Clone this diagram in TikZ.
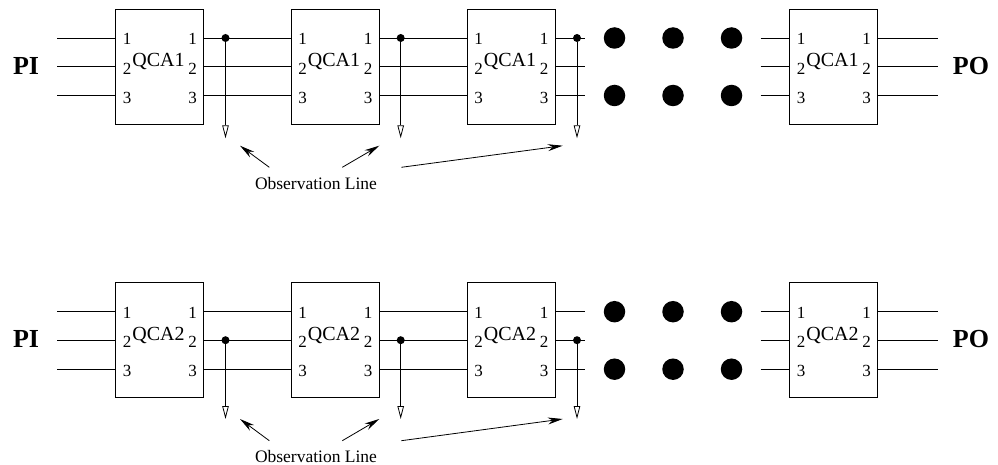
\documentclass[tikz,border=0pt]{standalone}
\usepackage{fontspec}
\setmainfont{Liberation Serif}
\usetikzlibrary{
    arrows.meta
}
\tikzset{
    every picture/.style = {
        > = Stealth,
        line width = 0.8pt
    },
    qcabox/.style = {
        draw,
        rectangle,
        anchor = north west,
        minimum width = 88pt,
        minimum height = 115pt,
        inner sep = 0pt,
        outer sep = 0pt
    },
    pinnum/.style = {inner sep = 0pt, font = \fontsize{17}{17}\selectfont},
    qcaname/.style = {inner sep = 0pt, font = \fontsize{20}{20}\selectfont},
    portname/.style = {inner sep = 0pt, font = \fontsize{26}{26}\selectfont\bfseries},
    obsname/.style = {inner sep = 0pt, font = \fontsize{17.5}{17.5}\selectfont},
    tapdot/.style = {circle, fill, inner sep = 0pt, outer sep = 0pt, minimum size = 8pt},
    bigdot/.style = {circle, fill, inner sep = 0pt, minimum size = 21.5pt},
    taparrow/.style = {-{Triangle[open, length = 13pt, width = 6.5pt, fill = white]}},
    obsarrow/.style = {-{Stealth[length = 15pt, width = 7pt, inset = 5pt]}}
}

\begin{document}
\begin{tikzpicture}[x = 1pt, y = -1pt]
    \useasboundingbox (0, 0) rectangle (998, 465);
    \foreach \r/\t/\n/\w/\e/\ah/\at/\ay in {1/9/1/29/138.3/145.7/167.3/183.3, 2/282.7/2/57.5/419/419/440.7/456.8} {
        % boxes with their pins
        \foreach \c/\x in {1/115.5, 2/291, 3/467, 4/789.5} {
            \node[qcabox] (box\r\c) at (\x, \t) {};
            \node[qcaname] (name\r\c) at (\x + 43, \t + 53) {QCA\n};
            \foreach \p/\d/\h in {1/29/1, 2/57.5/2, 3/86.5/2} {
                \coordinate (in\r\c\p) at (\x, \t + \d);
                \coordinate (out\r\c\p) at (\x + 88, \t + \d);
                \node[pinnum] (inum\r\c\p) at (\x + 11.5, \t + \d + \h) {\p};
                \node[pinnum] (onum\r\c\p) at (\x + 77, \t + \d + \h) {\p};
            }
        }
        \foreach \p/\d in {1/29, 2/57.5, 3/86.5} {
            \coordinate (pi\r\p) at (57, \t + \d);
            \coordinate (po\r\p) at (937.5, \t + \d);
            \coordinate (endl\r\p) at (585, \t + \d);
            \coordinate (endr\r\p) at (760.5, \t + \d);
            \draw (pi\r\p) -- (in\r1\p);
            \draw (out\r1\p) -- (in\r2\p);
            \draw (out\r2\p) -- (in\r3\p);
            \draw (out\r3\p) -- (endl\r\p);
            \draw (endr\r\p) -- (in\r4\p);
            \draw (out\r4\p) -- (po\r\p);
        }
        \foreach \i/\x in {1/614.5, 2/673, 3/731.5} {
            \node[bigdot] (dotu\r\i) at (\x, \t + 29) {};
            \node[bigdot] (dotl\r\i) at (\x, \t + 86.5) {};
        }
        \node[portname] (pi\r) at (26, \t + 56.7) {PI};
        \node[portname] (po\r) at (971, \t + 56.7) {PO};
        % observation lines
        \foreach \o/\x in {1/225.5, 2/400.7, 3/577} {
            \node[tapdot] (tap\r\o) at (\x, \t + \w) {};
            \coordinate (end\r\o) at (\x, \e);
            \draw[taparrow] (tap\r\o) -- (end\r\o);
        }
        \node[obsname] (obs\r) at (316, \ay) {Observation Line};
        \foreach \a/\hx/\tx in {a/240/269.3, b/379.3/342.3, c/562.7/401.3} {
            \coordinate (head\a\r) at (\hx, \ah);
            \coordinate (tail\a\r) at (\tx, \at);
            \draw[obsarrow] (tail\a\r) -- (head\a\r);
        }
    }
\end{tikzpicture}
\end{document}
